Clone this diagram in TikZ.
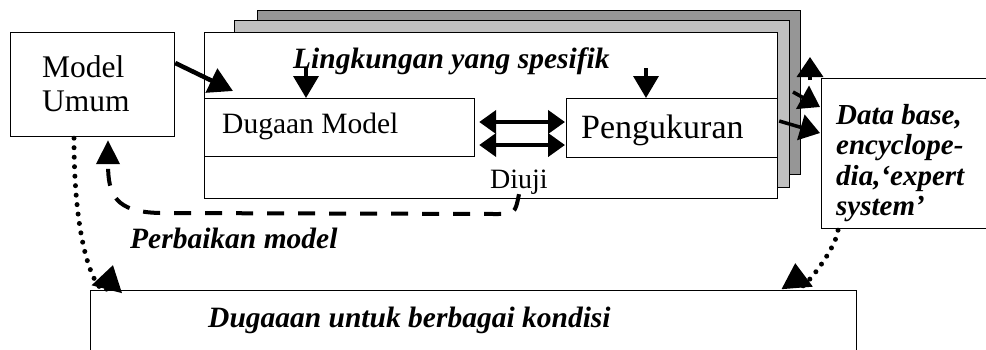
\documentclass[tikz,border=0pt]{standalone}
\usepackage{fontspec}
\setmainfont{Liberation Serif}
\usetikzlibrary{arrows.meta,calc}
\definecolor{darkgrey}{RGB}{150,150,150}
\definecolor{lightgrey}{RGB}{192,192,192}
\newcommand\bigsize{\fontsize{31.5}{35}\selectfont}
\newcommand\midsize{\fontsize{29.5}{32}\selectfont}
\newcommand\dbsize{\fontsize{29}{30}\selectfont}

\begin{document}
\begin{tikzpicture}[x=1pt,y=-1pt,
  box/.style={draw, line width=1.2pt, fill=white, inner sep=0pt, anchor=north west},
  txt/.style={inner sep=0pt, anchor=base west},
  bigarrow/.style={line width=4.5pt, -{Triangle[length=24pt,width=26pt]}},
  downarrow/.style={line width=3.5pt, -{Triangle[length=22pt,width=25pt]}},
  sidearrow/.style={line width=3.5pt, -{Triangle[length=20pt,width=26pt]}},
  duoarrow/.style={line width=4.5pt, {Triangle[length=17pt,width=23pt]}-{Triangle[length=17pt,width=23pt]}},
  dasharrow/.style={line width=4pt, dash pattern=on 17pt off 14pt, -{Triangle[length=24pt,width=23pt]}},
  dotarrow/.style={line width=5pt, line cap=round, dash pattern=on 0pt off 9.5pt, -{Triangle[length=25pt,width=30pt]}}]
\useasboundingbox (0,0) rectangle (986,349);

% stacked environments
\node[box, fill=darkgrey, minimum width=543pt, minimum height=164pt] (back2) at (257,10) {};
\node[box, fill=lightgrey, minimum width=555pt, minimum height=167pt] (back1) at (234,20) {};
\node[box, minimum width=573pt, minimum height=166pt] (env) at (204,32) {};
\node[box, minimum width=270pt, minimum height=58pt] (dugaan) at (204,98) {};
\node[box, minimum width=211pt, minimum height=59pt] (ukur) at (566,98) {};

% side boxes
\node[box, minimum width=164pt, minimum height=104pt] (mu) at (10,32) {};
\node[box, minimum width=180pt, minimum height=150pt] (db) at (821,78) {};
\node[box, minimum width=766pt, minimum height=80pt] (dk) at (90,290) {};

% texts
\node[txt] (mu1) at (42,77) {\bigsize Model};
\node[txt] (mu2) at (42,111) {\bigsize Umum};
\node[txt] (envtxt) at (293,68) {\midsize\bfseries\itshape Lingkungan yang spesifik};
\node[txt] (dugaantxt) at (222,133) {\midsize Dugaan Model};
\node[txt] (ukurtxt) at (581,138) {\fontsize{34}{36}\selectfont Pengukuran};
\node[txt] (uji) at (490,188) {\fontsize{28}{30}\selectfont Diuji};
\node[txt] (perbaikan) at (130,248) {\midsize\bfseries\itshape Perbaikan model};
\node[txt] (dktxt) at (208,327) {\midsize\bfseries\itshape Dugaaan untuk berbagai kondisi};
\node[txt] (db1) at (836,124) {\dbsize\bfseries\itshape Data base,};
\node[txt] (db2) at (836,154) {\dbsize\bfseries\itshape encyclope-};
\node[txt] (db3) at (836,185) {\dbsize\bfseries\itshape dia,‘expert};
\node[txt] (db4) at (836,215) {\dbsize\bfseries\itshape system’};

% arrows
\draw[bigarrow] ($(mu.north east)+(0,31)$) -- ($(dugaan.north west)+(29,-7)$);
\draw[downarrow] ($(dugaan.north west)+(102,-30)$) -- ($(dugaan.north west)+(102,0)$);
\draw[downarrow] ($(ukur.north west)+(80,-30)$) -- ($(ukur.north west)+(80,0)$);
\draw[duoarrow] ($(dugaan.north east)+(4,24)$) -- ($(ukur.north west)+(-1,24)$);
\draw[duoarrow] ($(dugaan.north east)+(4,47)$) -- ($(ukur.north west)+(-1,47)$);
\draw[sidearrow] ($(db.north west)+(-11,2)$) -- ($(db.north west)+(-11,-21)$);
\draw[sidearrow] ($(db.north west)+(-28,14)$) -- ($(db.north west)+(-1,29)$);
\draw[sidearrow] ($(ukur.north east)+(1,23)$) -- ($(db.north west)+(-1,55)$);

% feedback and outputs
\draw[dasharrow] (uji.south) .. controls (515,214) .. (495,214) -- (160,213)
  .. controls (115,212) and (108,195) .. ($(mu.south west)+(98,3)$);
\draw[dotarrow] ($(mu.south west)+(64,1)$) .. controls (74,270) and (104,300) .. ($(dk.north west)+(23,-25)$);
\draw[dotarrow] ($(db.south west)+(17,1)$) .. controls (836,250) and (798,298) .. ($(dk.north east)+(-62,-27)$);
\end{tikzpicture}
\end{document}
